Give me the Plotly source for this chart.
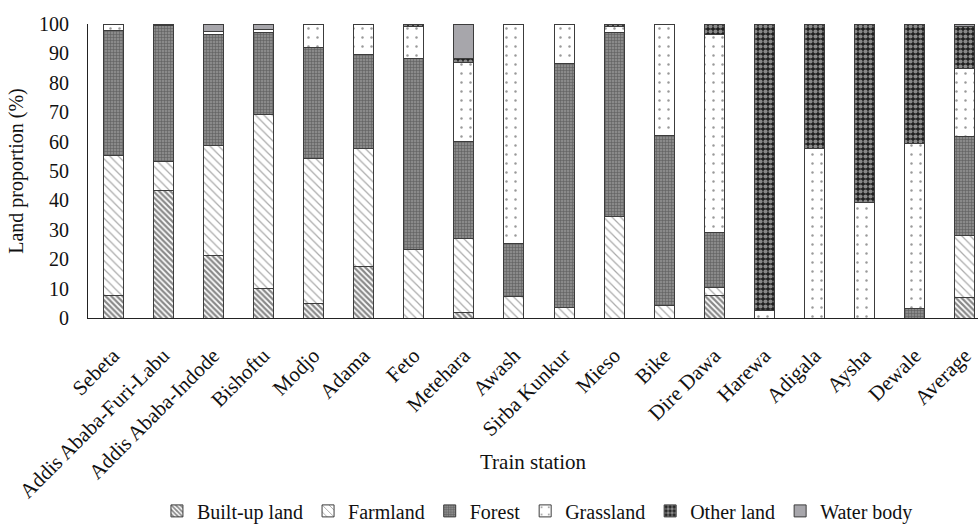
import plotly.graph_objects as go

stations = ["Sebeta", "Addis Ababa-Furi-Labu", "Addis Ababa-Indode", "Bishoftu", "Modjo",
            "Adama", "Feto", "Metehara", "Awash", "Sirba Kunkur", "Mieso", "Bike",
            "Dire Dawa", "Harewa", "Adigala", "Aysha", "Dewale", "Average"]

built_up = [7.8, 43.3, 21.4, 10.0, 4.8, 17.5, 0, 1.9, 0, 0, 0, 0, 7.5, 0, 0, 0, 0, 7.0]
farmland = [47.4, 9.9, 37.2, 59.2, 49.3, 40.0, 23.4, 25.2, 7.3, 3.6, 34.5, 4.2, 2.9, 0, 0, 0, 0, 20.9]
forest = [42.5, 46.3, 37.8, 28.0, 38.0, 32.0, 64.7, 32.9, 17.9, 83.0, 62.7, 58.0, 18.7, 0, 0, 0, 3.4, 34.0]
grassland = [2.3, 0, 1.0, 1.0, 7.9, 10.5, 11.0, 26.8, 74.8, 13.4, 2.1, 37.8, 67.4, 2.5, 57.5, 39.2, 56.0, 23.0]
other_land = [0, 0.5, 0, 0, 0, 0, 0.9, 1.3, 0, 0, 0.7, 0, 3.5, 97.5, 42.5, 60.8, 40.6, 14.2]
water_body = [0, 0, 2.6, 1.8, 0, 0, 0, 11.9, 0, 0, 0, 0, 0, 0, 0, 0, 0, 0.9]

FONT = "Liberation Serif"

# name, values, fill colour, pattern settings
layers = [
    ("Built-up land", built_up, "white", dict(shape="\\", fgcolor="#111111", size=4, solidity=0.55)),
    ("Farmland", farmland, "white", dict(shape="\\", fgcolor="#555555", size=6, solidity=0.2)),
    ("Forest", forest, "#8a8a8a", dict(shape="+", fgcolor="#333333", size=3, solidity=0.35)),
    ("Grassland", grassland, "white", dict(shape=".", fgcolor="#333333", size=9, solidity=0.06)),
    ("Other land", other_land, "#1e1e1e", dict(shape=".", fgcolor="#f4f4f4", size=5, solidity=0.55)),
    ("Water body", water_body, "#a7a6ab", None),
]

fig = go.Figure()
for name, vals, color, pat in layers:
    ys = [v if v > 0 else None for v in vals]
    marker = dict(color=color, line=dict(color="#3c3c3c", width=1))
    if pat:
        marker["pattern"] = dict(fillmode="overlay", bgcolor=color, **pat)
    fig.add_trace(go.Bar(x=stations, y=ys, name=name, marker=marker, width=0.4))

fig.update_layout(
    barmode="stack",
    width=978, height=524,
    margin=dict(l=88, r=0, t=24, b=206),
    paper_bgcolor="white", plot_bgcolor="white",
    font=dict(family=FONT, size=20, color="#111111"),
    showlegend=True,
    legend=dict(orientation="h", x=0.505, xanchor="center", yref="container", y=0.025,
                yanchor="middle", traceorder="normal", font=dict(family=FONT, size=20),
                itemwidth=30),
    xaxis=dict(range=[-0.5, 17.26], tickangle=-45, showline=True, linecolor="#222222",
               linewidth=1, ticks="", automargin=False, ticklabelstandoff=16,
               tickfont=dict(family=FONT, size=21)),
    yaxis=dict(range=[0, 100], dtick=10, showline=True, linecolor="#222222", linewidth=1,
               showgrid=False, zeroline=False, ticks="", automargin=False, ticklabelstandoff=14,
               tickfont=dict(family=FONT, size=20),
               title=dict(text="Land proportion (%)", font=dict(family=FONT, size=20), standoff=10)),
    annotations=[dict(text="Train station", xref="paper", yref="paper", x=0.5, y=-0.49,
                      xanchor="center", yanchor="middle", showarrow=False,
                      font=dict(family=FONT, size=21))],
)

fig.write_html("out.html")
